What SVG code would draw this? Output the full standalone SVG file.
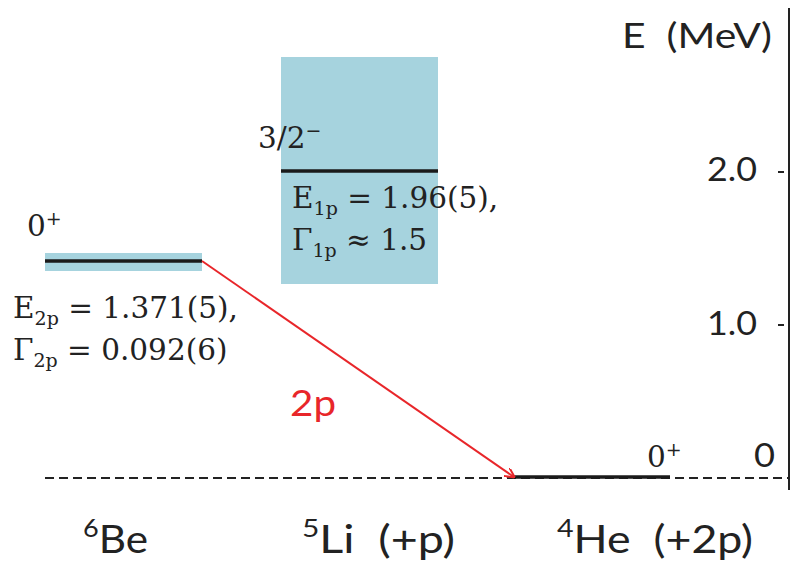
<svg xmlns="http://www.w3.org/2000/svg" width="791" height="565" viewBox="0 0 791 565">
<defs>
<style>
text{white-space:pre}
.serif{font-family:"DejaVu Serif","Liberation Serif",serif;fill:#222;font-size:29.5px}
.sans{font-family:Lato,"Open Sans","Liberation Sans",sans-serif;fill:#222}
.band{fill:#a6d3de}
.lvl{stroke:#1a1a1a;stroke-width:3.5}
.sub{font-size:19px}
</style>
<marker id="ah" markerWidth="10" markerHeight="10" refX="9" refY="5" orient="auto" markerUnits="userSpaceOnUse">
<path d="M0,0 L10,5 L0,10" fill="none" stroke="#e8262a" stroke-width="2"/>
</marker>
</defs>
<rect width="791" height="565" fill="#fff"/>
<g id="axis">
<line x1="45" y1="478" x2="789" y2="478" stroke="#222" stroke-width="2" stroke-dasharray="9,5"/>
<line x1="789" y1="8" x2="789" y2="490" stroke="#222" stroke-width="2"/>
<line x1="778" y1="172" x2="784" y2="172" stroke="#222" stroke-width="2"/>
<line x1="778" y1="325" x2="784" y2="325" stroke="#222" stroke-width="2"/>
<text class="sans" x="622" y="48" font-size="34" xml:space="preserve" textLength="150" lengthAdjust="spacingAndGlyphs">E  (MeV)</text>
<text class="sans" x="707" y="181" font-size="33" textLength="50" lengthAdjust="spacingAndGlyphs">2.0</text>
<text class="sans" x="707" y="335" font-size="33" textLength="50" lengthAdjust="spacingAndGlyphs">1.0</text>
<text class="sans" x="754" y="467" font-size="33" textLength="21" lengthAdjust="spacingAndGlyphs">0</text>
</g>
<g id="be6">
<rect class="band" x="45" y="253" width="157" height="18"/>
<line class="lvl" x1="45" y1="261" x2="202" y2="261"/>
<text class="serif" x="27" y="236">0<tspan class="sub" dy="-11">+</tspan></text>
<text class="serif" x="13" y="318">E<tspan class="sub" dy="7">2p</tspan><tspan dy="-7"> = 1.371(5),</tspan></text>
<text class="serif" x="13" y="360">Γ<tspan class="sub" dy="7">2p</tspan><tspan dy="-7"> = 0.092(6)</tspan></text>
<text class="sans" x="83" y="553" font-size="39" textLength="65" lengthAdjust="spacingAndGlyphs"><tspan font-size="25" dy="-16">6</tspan><tspan dy="16">Be</tspan></text>
</g>
<g id="li5">
<rect class="band" x="281" y="57" width="157" height="227"/>
<line class="lvl" x1="281" y1="171" x2="438" y2="171"/>
<text class="serif" x="258" y="148">3/2<tspan class="sub" dy="-11">−</tspan></text>
<text class="serif" x="292" y="208">E<tspan class="sub" dy="7">1p</tspan><tspan dy="-7"> = 1.96(5),</tspan></text>
<text class="serif" x="292" y="250">Γ<tspan class="sub" dy="7">1p</tspan><tspan dy="-7"> ≈ 1.5</tspan></text>
<text class="sans" x="302" y="553" font-size="39" xml:space="preserve" textLength="153" lengthAdjust="spacingAndGlyphs"><tspan font-size="25" dy="-16">5</tspan><tspan dy="16">Li  (+p)</tspan></text>
</g>
<g id="he4">
<line class="lvl" x1="514" y1="477" x2="670" y2="477"/>
<text class="serif" x="647" y="467">0<tspan class="sub" dy="-11">+</tspan></text>
<text class="sans" x="557" y="553" font-size="39" xml:space="preserve" textLength="196" lengthAdjust="spacingAndGlyphs"><tspan font-size="25" dy="-16">4</tspan><tspan dy="16">He  (+2p)</tspan></text>
</g>
<g id="connectors">
<line x1="202" y1="261" x2="514" y2="477" stroke="#e8262a" stroke-width="2" marker-end="url(#ah)"/>
<text x="290" y="416" font-family="Lato, Open Sans, Liberation Sans, sans-serif" font-size="37" fill="#e8262a" textLength="46" lengthAdjust="spacingAndGlyphs">2p</text>
</g>
</svg>
